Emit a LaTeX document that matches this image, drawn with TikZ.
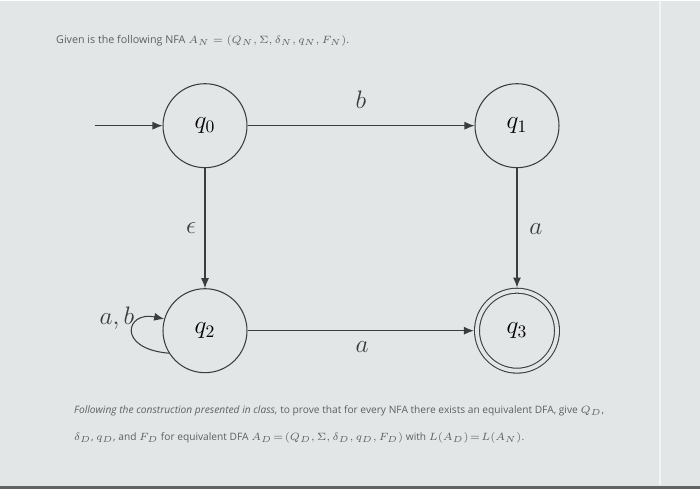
\documentclass[tikz,border=0pt]{standalone}
\usepackage{amsmath,amssymb}
\usepackage{fontspec}
\setsansfont{Open Sans}
\usetikzlibrary{arrows.meta,positioning}
\definecolor{NFAInk}{HTML}{3A3C3E}
\definecolor{NFAText}{HTML}{5C6064}
\definecolor{NFAPaper}{HTML}{E3E6E6}
\definecolor{NFAEdge}{HTML}{F2F3F3}

\begin{document}
\begin{tikzpicture}[x=0.02cm,y=-0.02cm,
          >={Latex[length=2mm,width=1.6mm]},
          state/.style={circle,draw=NFAInk,semithick,minimum size=1.68cm,inner sep=0pt,font=\Large},
          accepting/.style={minimum size=1.6cm,double=NFAPaper,double distance=2.2pt},
          trans/.style={->,semithick,draw=NFAInk},
          sym/.style={font=\Large,text=NFAInk},
          note/.style={font=\sffamily\fontsize{5.8}{7}\selectfont,text=NFAText,anchor=west}
        ]
        \fill[NFAPaper] (0,0) rectangle (700,488);
        \draw[NFAEdge,thick] (660,0) -- (660,484);
        \fill[NFAInk!80] (0,485) rectangle (700,488);

        \node[note,font=\sffamily\fontsize{6.1}{7}\selectfont] (given) at (50,40)
          {Given is the following NFA $A_N=(Q_N,\Sigma,\delta_N,q_N,F_N)$.};

        \node[state] (q0) at (205,125) {$q_0$};
        \node[state] (q1) at (517,125) {$q_1$};
        \node[state] (q2) at (205,330) {$q_2$};
        \node[state,accepting] (q3) at (517,330) {$q_3$};
        \coordinate (start) at (95,125);

        \draw[trans] (start) -- (q0);
        \draw[trans] (q0) -- node[sym,above=0.22cm] (lb) {$b$} (q1);
        \draw[trans] (q0) -- node[sym,left=0.05cm] (leps) {$\epsilon$} (q2);
        \draw[trans,shorten >=1.5pt] (q1) -- node[sym,right=0.12cm] (la1) {$a$} (q3);
        \draw[trans,shorten >=1.5pt] (q2) -- node[sym,below=0.1cm] (la2) {$a$} (q3);
        \draw[trans] (q2.212) .. controls (116,348) and (126,310) .. (q2.164);
        \node[sym] (lab) at (117,317) {$a,b$};

        \node[note] (task1) at (68,410)
          {\itshape Following the construction presented in class,\upshape{} to prove that for every NFA there exists an equivalent DFA, give $Q_D$,};
        \node[note] (task2) at (68,437)
          {$\delta_D$, $q_D$, and $F_D$ for equivalent DFA $A_D\!=\!(Q_D,\Sigma,\delta_D,q_D,F_D)$ with $L(A_D)\!=\!L(A_N)$.};
      \end{tikzpicture}
\end{document}
